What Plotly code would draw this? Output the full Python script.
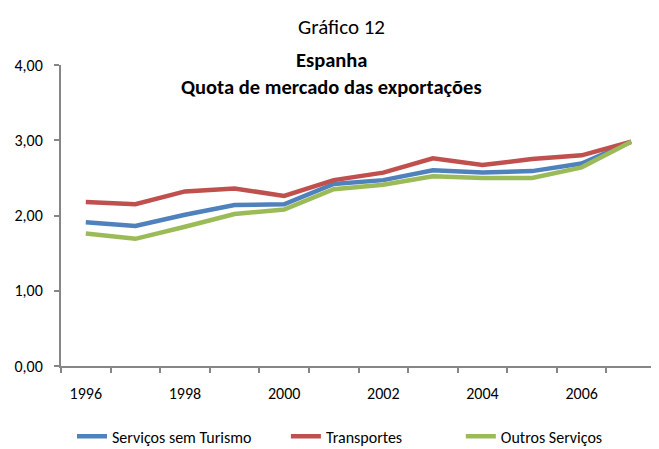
import plotly.graph_objects as go

years = list(range(1996, 2008))
servicos_sem_turismo = [1.91, 1.86, 2.01, 2.14, 2.15, 2.42, 2.47, 2.60, 2.57, 2.59, 2.69, 2.98]
transportes = [2.18, 2.15, 2.32, 2.36, 2.26, 2.47, 2.57, 2.76, 2.67, 2.75, 2.80, 2.98]
outros_servicos = [1.76, 1.69, 1.85, 2.02, 2.08, 2.35, 2.41, 2.52, 2.50, 2.50, 2.64, 2.98]
series_names = ["Serviços sem Turismo", "Transportes", "Outros Serviços"]
y_ticks = [0, 1, 2, 3, 4]
y_tick_labels = ["0,00", "1,00", "2,00", "3,00", "4,00"]
x_label_years = [1996, 1998, 2000, 2002, 2004, 2006]

colors = ["#4F81BD", "#C0504D", "#9BBB59"]
FONT = "Carlito, Lato, sans-serif"
legend_ids = ["legend", "legend2", "legend3"]
legend_x = [0.0185, 0.378, 0.672]

fig = go.Figure()
for name, vals, col, lid in zip(series_names, [servicos_sem_turismo, transportes, outros_servicos],
                                colors, legend_ids):
    fig.add_trace(go.Scatter(x=years, y=vals, mode="lines", name=name, legend=lid,
                             line=dict(color=col, width=4.5)))

leg_common = dict(orientation="h", xanchor="left", y=-0.234, yanchor="middle",
                  font=dict(size=16), bgcolor="rgba(0,0,0,0)")

fig.update_layout(
    width=659, height=449,
    margin=dict(l=53, r=11, t=57, b=91, autoexpand=False),
    plot_bgcolor="white", paper_bgcolor="white",
    font=dict(family=FONT, size=16, color="#000000"),
    showlegend=True,
    legend=dict(x=legend_x[0], **leg_common),
    legend2=dict(x=legend_x[1], **leg_common),
    legend3=dict(x=legend_x[2], **leg_common),
    xaxis=dict(
        range=[1995.5, 2007.5], showgrid=False, zeroline=False,
        showline=True, linecolor="#868686", linewidth=2,
        tickmode="array", tickvals=x_label_years, ticktext=[str(v) for v in x_label_years],
        ticks="", ticklabelstandoff=12,
        minor=dict(tickmode="linear", tick0=1995.5, dtick=1, ticks="outside",
                   ticklen=5, tickcolor="#868686", tickwidth=2),
    ),
    yaxis=dict(
        range=[0, 4], showgrid=False, zeroline=False,
        showline=True, linecolor="#868686", linewidth=2,
        tickmode="array", tickvals=y_ticks, ticktext=y_tick_labels,
        ticks="outside", ticklen=5, tickcolor="#868686", tickwidth=2,
        ticklabelstandoff=8,
    ),
    annotations=[
        dict(text="Gráfico 12", xref="paper", yref="paper", x=0.4706, y=1.126,
             xanchor="center", yanchor="middle", showarrow=False, font=dict(size=21)),
        dict(text="<b>Espanha</b>", xref="paper", yref="paper", x=0.455, y=1.017,
             xanchor="center", yanchor="middle", showarrow=False, font=dict(size=20.5)),
        dict(text="<b>Quota de mercado das exportações</b>", xref="paper", yref="paper",
             x=0.455, y=0.927, xanchor="center", yanchor="middle", showarrow=False,
             font=dict(size=20.5)),
    ],
)

fig.write_html("out.html")
